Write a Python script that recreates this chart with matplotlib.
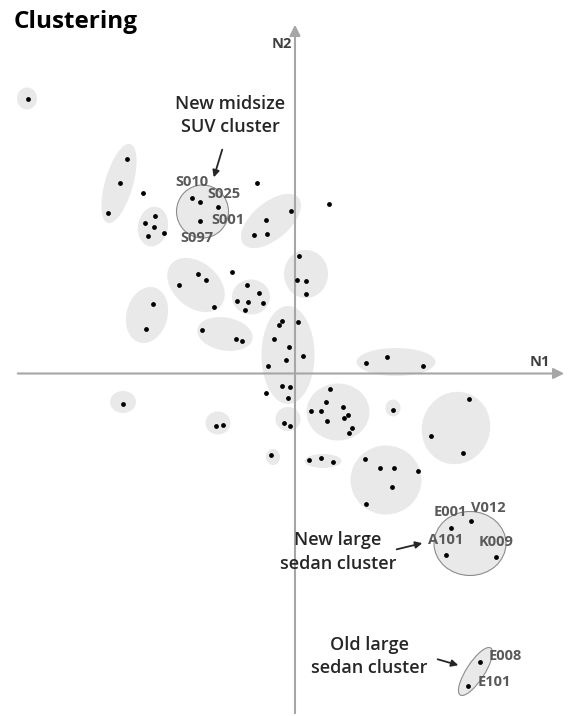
import matplotlib.pyplot as plt
from matplotlib.patches import Ellipse

plt.rcParams["font.family"] = ["Open Sans", "DejaVu Sans"]

#* Data (N1 / N2 positioning map, origin at axis crossing)
pt_n1 = [-26.7, -16.8, -17.5, -18.7, -15.2, -3.8, -0.4, -2.9, -2.8, -4.1,
         -14.0, -15.0, -14.1, -13.1, -14.7, 3.4, 0.4, 0.2, 1.1, 1.1,
         -9.7, -8.9, -11.6, -8.1, -6.3, -4.8, -3.6, -5.8, -4.7, -3.2,
         -5.0, -14.2, -14.9, -9.3, -5.9, -5.3, -1.3, -1.6, 0.3, -2.1,
         -0.6, 0.8, -0.9, -2.7, -1.3, -0.5, -2.9, -0.7, 7.1, 9.2,
         12.8, -17.2, -7.9, -7.2, -1.1, -0.5, 3.5, 3.1, 1.6, 2.6,
         4.8, 5.3, 4.9, 3.2, 5.7, 5.4, 9.8, 17.4, 13.6, 16.8,
         -2.4, 1.4, 2.6, 3.8, 7.0, 8.5, 9.9, 12.3, 9.7, 7.1]
pt_n2 = [27.5, 21.5, 19.1, 16.1, 18.1, 19.1, 16.3, 15.4, 14.0, 13.9,
         15.8, 15.1, 14.7, 14.1, 13.8, 17.0, 11.8, 9.4, 9.3, 8.0,
         10.0, 9.4, 8.9, 6.7, 10.2, 8.9, 8.1, 7.3, 7.2, 7.1,
         6.4, 7.0, 4.5, 4.4, 3.5, 3.3, 5.3, 4.9, 5.2, 3.5,
         2.7, 1.8, 1.4, 0.8, -1.2, -1.3, -1.9, -2.4, 1.1, 1.7,
         0.8, -3.0, -5.2, -5.1, -4.9, -5.2, -1.5, -2.8, -3.7, -3.7,
         -3.3, -4.1, -4.4, -4.7, -5.4, -5.9, -3.6, -2.5, -6.2, -7.9,
         -8.1, -8.6, -8.4, -8.8, -8.5, -9.4, -9.4, -9.7, -11.3, -13.0]

# labelled models
lab_names = ["S010", "S025", "S001", "S097", "E001", "V012", "A101", "K009", "E008", "E101"]
lab_n1 = [-10.3, -9.5, -7.7, -9.5, 15.6, 17.6, 15.1, 20.1, 18.5, 17.3]
lab_n2 = [17.6, 17.2, 16.7, 15.3, -15.4, -14.7, -18.1, -18.3, -28.8, -31.2]
lab_off = [(0, 15), (24, 8), (10, -14), (-3, -18), (-1, 15),
           (17, 13), (0, 15), (0, 15), (25, 5), (26, 4)]

# cluster ellipses: centre, width, height, angle
ell_n1 = [-26.8, -17.6, -14.2, -2.4, 1.1, -9.9, -4.4, -14.8, -7.0, -0.7,
          10.1, -17.2, -7.7, -0.7, 4.3, 9.8, 16.1, -2.2, 2.8, 9.1]
ell_n2 = [27.5, 19.0, 14.7, 15.25, 9.95, 8.85, 7.65, 5.85, 3.95, 1.85,
          1.15, -2.85, -4.95, -4.55, -3.85, -3.45, -5.45, -8.35, -8.75, -10.65]
ell_w = [2.0, 8.2, 4.0, 7.2, 4.4, 6.5, 3.8, 5.7, 5.6, 5.3,
         7.9, 2.6, 2.5, 2.5, 6.3, 1.5, 7.3, 1.4, 3.7, 7.1]
ell_h = [2.2, 2.8, 3.0, 3.7, 4.8, 4.5, 3.5, 4.1, 3.3, 9.8,
         2.8, 2.2, 2.3, 2.4, 5.7, 1.7, 6.8, 1.6, 1.4, 6.9]
ell_ang = [0, 74, 80, 40, 0, -40, 0, 75, -10, 0,
           0, 0, 0, 0, 0, 0, 70, 0, 0, 0]

# highlighted clusters (outlined)
hl_n1 = [-9.25, 17.5, 18.05]
hl_n2 = [16.2, -17.0, -29.8]
hl_w = [5.2, 7.2, 5.6]
hl_h = [5.3, 6.4, 1.8]
hl_ang = [0, 0, 57]

notes = ["New midsize\nSUV cluster", "New large\nsedan cluster", "Old large\nsedan cluster"]
note_pos = [(-6.5, 25.8), (4.3, -17.85), (7.45, -28.3)]
note_arrow = [((-7.2, 22.65), (-8.2, 19.35)), ((9.9, -17.65), (13.0, -16.9)),
              ((14.0, -28.5), (16.6, -29.25))]

#* Plot settings
fig = plt.figure(figsize=(5.68, 7.16), dpi=100)
ax = fig.add_axes([0, 0, 1, 1])
ax.set_xlim(-29.5, 27.3)
ax.set_ylim(-34.25, 37.35)
ax.axis("off")

fill = "#e9e9e9"
for i in range(len(ell_n1)):
    ax.add_patch(Ellipse((ell_n1[i], ell_n2[i]), ell_w[i], ell_h[i], angle=ell_ang[i],
                         facecolor=fill, edgecolor="none", zorder=1))
for i in range(len(hl_n1)):
    ax.add_patch(Ellipse((hl_n1[i], hl_n2[i]), hl_w[i], hl_h[i], angle=hl_ang[i],
                         facecolor=fill, edgecolor="#8c8c8c", lw=0.8, zorder=1))

# axes arrows
axcol = "#a6a6a6"
ax.annotate("", xy=(27.2, 0), xytext=(-28.0, 0),
            arrowprops=dict(arrowstyle="-|>", color=axcol, lw=1.5, mutation_scale=16), zorder=2)
ax.annotate("", xy=(0, 35.15), xytext=(0, -34.25),
            arrowprops=dict(arrowstyle="-|>", color=axcol, lw=1.5, mutation_scale=16), zorder=2)
ax.text(-1.33, 32.9, "N2", ha="center", va="center", fontsize=10.5, fontweight="bold", color="#404040")
ax.text(24.5, 1.2, "N1", ha="center", va="center", fontsize=10.5, fontweight="bold", color="#404040")

ax.scatter(pt_n1, pt_n2, s=12, color="black", zorder=3, linewidths=0)
ax.scatter(lab_n1, lab_n2, s=12, color="black", zorder=3, linewidths=0)

for i in range(len(lab_names)):
    ax.annotate(lab_names[i], (lab_n1[i], lab_n2[i]), xytext=lab_off[i], textcoords="offset pixels",
                ha="center", va="center", fontsize=10.5, fontweight="bold", color="#595959", zorder=4)

for i in range(len(notes)):
    ax.text(note_pos[i][0], note_pos[i][1], notes[i], ha="center", va="center", fontsize=13,
            fontweight="semibold", color="#262626", linespacing=1.42)
    ax.annotate("", xy=note_arrow[i][1], xytext=note_arrow[i][0],
                arrowprops=dict(arrowstyle="-|>", color="#262626", lw=1.3, mutation_scale=10))

fig.text(14 / 568, 1 - 21.7 / 716, "Clustering", ha="left", va="center", fontsize=17.5,
         fontweight="bold", color="black")

fig.savefig("out.png", dpi=100)
